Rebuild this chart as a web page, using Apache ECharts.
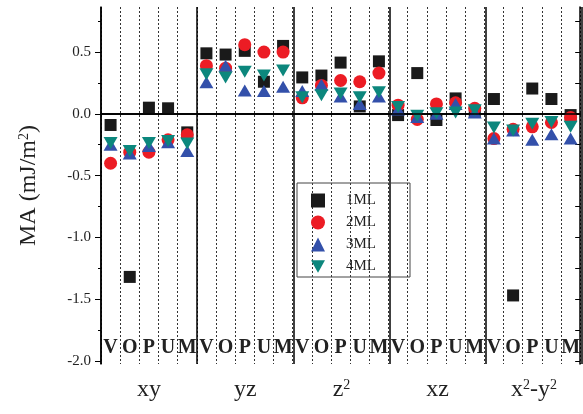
<!DOCTYPE html>
<html>
<head>
<meta charset="utf-8">
<script src="https://cdn.jsdelivr.net/npm/echarts@6/dist/echarts.min.js"></script>
<style>
  html, body { margin: 0; padding: 0; background: #fff; }
  #chart { width: 583px; height: 414px; }
</style>
</head>
<body>
<div id="chart"></div>
<script>
// orbitals and the five sub-labels inside each orbital
var groupNames = ['xy', 'yz', 'z{sup|2}', 'xz', 'x{sup|2}-y{sup|2}']
var subLabels = ['V', 'O', 'P', 'U', 'M']

// MA values (mJ/m^2), 5 orbitals x V,O,P,U,M
var ml1 = [-0.09, -1.32, 0.05, 0.045, -0.15,
  0.49, 0.48, 0.51, 0.26, 0.55,
  0.295, 0.31, 0.415, 0.06, 0.425,
  -0.01, 0.33, -0.05, 0.125, 0.02,
  0.12, -1.47, 0.205, 0.12, -0.01]
var ml2 = [-0.40, -0.31, -0.31, -0.21, -0.17,
  0.39, 0.37, 0.56, 0.50, 0.50,
  0.13, 0.23, 0.27, 0.26, 0.33,
  0.07, -0.045, 0.08, 0.09, 0.045,
  -0.20, -0.125, -0.105, -0.07, -0.03]
var ml3 = [-0.25, -0.32, -0.26, -0.23, -0.30,
  0.255, 0.39, 0.19, 0.185, 0.22,
  0.185, 0.235, 0.14, 0.08, 0.14,
  0.035, -0.025, 0.0, 0.08, 0.01,
  -0.20, -0.135, -0.21, -0.165, -0.20]
var ml4 = [-0.235, -0.30, -0.235, -0.22, -0.24,
  0.32, 0.295, 0.34, 0.31, 0.35,
  0.135, 0.15, 0.165, 0.135, 0.175,
  0.055, -0.015, 0.005, 0.01, 0.03,
  -0.11, -0.135, -0.08, -0.065, -0.105]

var majorTicks = [-2.0, -1.5, -1.0, -0.5, 0.0, 0.5]
var minorTicks = [-1.75, -1.25, -0.75, -0.25, 0.25, 0.75]
var allTicks = [-2.0, -1.75, -1.5, -1.25, -1.0, -0.75, -0.5, -0.25, 0.0, 0.25, 0.5, 0.75]

var yMin = -2.025
var yMax = 0.865

var categories = []
for (var g = 0; g < groupNames.length; g++) {
  for (var s = 0; s < subLabels.length; s++) {
    categories.push(g + '_' + subLabels[s])
  }
}
var groupIdx = groupNames.map(function (n, i) { return String(i) })

var serif = 'Liberation Serif, Times New Roman, serif'
var supRich = {
  sup: { fontSize: 14, verticalAlign: 'top', lineHeight: 14, fontFamily: serif, color: '#222' }
}

var gridBox = { left: 101, right: 1, top: 7, bottom: 50 }

var myChart = echarts.init(document.getElementById('chart'))

var option = {
  animation: false,
  grid: [
    Object.assign({}, gridBox),
    Object.assign({}, gridBox),
    Object.assign({}, gridBox)
  ],
  legend: {
    orient: 'vertical',
    left: 297,
    top: 183,
    itemWidth: 14,
    itemHeight: 14,
    itemGap: 7,
    padding: [10, 34, 3, 14],
    borderColor: '#444',
    borderWidth: 1,
    textStyle: { fontFamily: serif, fontSize: 15, lineHeight: 14, color: '#222', padding: [0, 0, 0, 16] },
    data: ['1ML', '2ML', '3ML', '4ML']
  },
  xAxis: [
    {
      // sub labels V O P U M, dotted separators
      type: 'category',
      gridIndex: 0,
      position: 'bottom',
      data: categories,
      axisLine: { lineStyle: { color: '#000', width: 1.5 } },
      axisTick: { show: false },
      axisLabel: {
        inside: true,
        interval: 0,
        margin: 6,
        fontFamily: serif,
        fontWeight: 'bold',
        fontSize: 20,
        color: '#222',
        formatter: function (v) { return v.split('_')[1] }
      },
      splitLine: {
        show: true,
        interval: 0,
        lineStyle: { color: '#333', width: 1, type: [2, 2] }
      }
    },
    {
      // top frame
      type: 'category',
      gridIndex: 0,
      position: 'top',
      data: groupIdx,
      axisLine: { lineStyle: { color: '#000', width: 1.5 } },
      axisTick: { inside: true, alignWithLabel: true, length: 3, lineStyle: { color: '#000' } },
      axisLabel: { show: false },
      splitLine: { show: false }
    },
    {
      // orbital names, solid separators
      type: 'category',
      gridIndex: 1,
      position: 'bottom',
      data: groupIdx,
      axisLine: { show: false },
      axisTick: { interval: 0, length: 6, lineStyle: { color: '#000', width: 1 } },
      axisLabel: {
        interval: 0,
        margin: 14,
        fontFamily: serif,
        fontSize: 24,
        color: '#222',
        formatter: function (v) { return groupNames[+v] },
        rich: supRich
      },
      splitLine: { show: true, interval: 0, lineStyle: { color: '#000', width: 1.5 } }
    },
    {
      // centre ticks
      type: 'category',
      gridIndex: 2,
      position: 'bottom',
      data: groupIdx,
      axisLine: { show: false },
      axisTick: { interval: 0, alignWithLabel: true, length: 8, lineStyle: { color: '#000', width: 1 } },
      axisLabel: { show: false },
      splitLine: { show: false }
    }
  ],
  yAxis: [
    {
      type: 'value',
      gridIndex: 0,
      position: 'left',
      min: yMin,
      max: yMax,
      name: 'MA (mJ/m{sup|2})',
      nameLocation: 'middle',
      nameRotate: 90,
      nameGap: 60,
      nameTextStyle: { fontFamily: serif, fontSize: 24, color: '#222', rich: supRich },
      axisLine: { show: true, lineStyle: { color: '#000', width: 1.5 } },
      axisTick: { show: true, customValues: majorTicks, length: 6, lineStyle: { color: '#000' } },
      axisLabel: {
        customValues: majorTicks,
        margin: 10,
        fontFamily: serif,
        fontSize: 15,
        color: '#222',
        formatter: function (v) { return v.toFixed(1) }
      },
      splitLine: { show: false }
    },
    {
      type: 'value',
      gridIndex: 0,
      position: 'right',
      min: yMin,
      max: yMax,
      axisLine: { show: true, lineStyle: { color: '#000', width: 1.5 } },
      axisTick: { show: true, inside: true, customValues: allTicks, length: 5, lineStyle: { color: '#000' } },
      axisLabel: { show: false },
      splitLine: { show: false }
    },
    {
      type: 'value',
      gridIndex: 1,
      position: 'left',
      min: yMin,
      max: yMax,
      axisLine: { show: false },
      axisTick: { show: true, customValues: minorTicks, length: 3, lineStyle: { color: '#000' } },
      axisLabel: { show: false },
      splitLine: { show: false }
    },
    {
      type: 'value',
      gridIndex: 2,
      min: yMin,
      max: yMax,
      show: false
    }
  ],
  series: [
    {
      name: '1ML',
      type: 'scatter',
      xAxisIndex: 0,
      yAxisIndex: 0,
      symbol: 'rect',
      symbolSize: 12,
      itemStyle: { color: '#1a1a1a', opacity: 1 },
      data: ml1
    },
    {
      name: '2ML',
      type: 'scatter',
      xAxisIndex: 0,
      yAxisIndex: 0,
      symbol: 'circle',
      symbolSize: 13,
      itemStyle: { color: '#ec1c24', opacity: 1 },
      data: ml2
    },
    {
      name: '3ML',
      type: 'scatter',
      xAxisIndex: 0,
      yAxisIndex: 0,
      symbol: 'triangle',
      symbolSize: [14, 12],
      itemStyle: { color: '#3350aa', opacity: 1 },
      data: ml3
    },
    {
      name: '4ML',
      type: 'scatter',
      xAxisIndex: 0,
      yAxisIndex: 0,
      symbol: 'path://M0,0 L10,0 L5,9 Z',
      symbolSize: [14, 12],
      itemStyle: { color: '#0c877d', opacity: 1 },
      data: ml4,
      markLine: {
        silent: true,
        symbol: 'none',
        label: { show: false },
        lineStyle: { color: '#000', width: 1.5, type: 'solid' },
        data: [{ yAxis: 0 }]
      }
    }
  ]
}

myChart.setOption(option)
</script>
</body>
</html>
